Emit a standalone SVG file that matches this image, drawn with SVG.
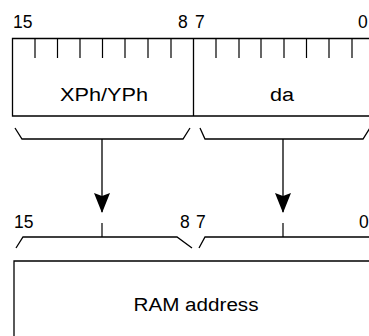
<svg xmlns="http://www.w3.org/2000/svg" width="369" height="336" viewBox="0 0 369 336">
<defs>
<style>
.ln{stroke:#000;stroke-width:1.3;fill:none}
.tk{stroke:#000;stroke-width:1.2;fill:none}
.num{font-family:"Liberation Sans",Arial,sans-serif;font-size:17.5px;fill:#000}
.lbl{font-family:"Liberation Sans",Arial,sans-serif;font-size:18px;fill:#000;text-anchor:middle}
</style>
<marker id="ah" markerWidth="20" markerHeight="16" refX="19" refY="8" orient="auto" markerUnits="userSpaceOnUse" viewBox="0 0 20 16">
<path d="M0,0 L20,8 L0,16 L3,8 Z" fill="#000"/>
</marker>
</defs>
<rect width="369" height="336" fill="#fff"/>

<g id="top-register">
<text class="num" x="13" y="28">15</text>
<text class="num" x="178" y="28">8</text>
<text class="num" x="195" y="28">7</text>
<text class="num" x="358" y="28">0</text>
<path class="ln" d="M372,38.5 H12.5 V116 H372 M193.5,38.5 V116"/>
<path class="tk" d="M35,38 V58 M57.5,38 V58 M80,38 V58 M102.5,38 V58 M125,38 V58 M148,38 V58 M171,38 V58 M216,38 V58 M239,38 V58 M261,38 V58 M284,38 V58 M306.5,38 V58 M329,38 V58 M352,38 V58"/>
<text class="lbl" x="104" y="101" textLength="88" lengthAdjust="spacingAndGlyphs">XPh/YPh</text>
<text class="lbl" x="282" y="101" textLength="24" lengthAdjust="spacingAndGlyphs">da</text>
</g>

<g id="bottom-register">
<text class="num" x="14" y="228">15</text>
<text class="num" x="180" y="228">8</text>
<text class="num" x="196" y="228">7</text>
<text class="num" x="359" y="228">0</text>
<path class="ln" d="M372,261 H14 V340"/>
<text class="lbl" x="196" y="311" textLength="125" lengthAdjust="spacingAndGlyphs">RAM address</text>
</g>

<g id="connectors">
<path class="ln" d="M15,128 L22,139 H183 L190,128"/>
<path class="ln" d="M200,128 L205,139 H363 L370,128"/>
<path class="ln" d="M16,248 L23,237 H177 L192,248"/>
<path class="ln" d="M199,248 L205,237 H372"/>
<path class="tk" d="M102,223 V237 M283,223 V237"/>
<path class="ln" d="M102,139 V212" marker-end="url(#ah)"/>
<path class="ln" d="M283,139 V212" marker-end="url(#ah)"/>
</g>
</svg>
